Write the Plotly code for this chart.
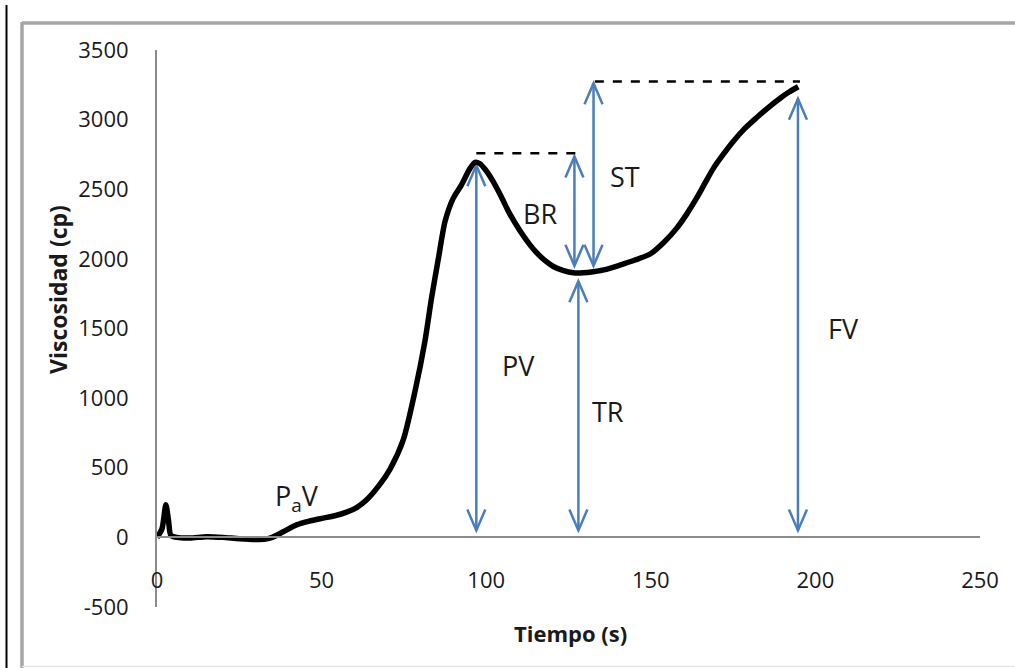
import plotly.graph_objects as go

# ---- data ----
time_s = [0, 1.5, 2.7, 3.5, 4.2, 6, 10, 15, 20, 25, 30, 33, 35, 38.3, 42.4, 46, 49.5, 54, 57.6,
          60.5, 63.7, 67.7, 70.8, 74.8, 78.4, 81.4, 83.4, 85.5, 87.5, 90.0, 92.5, 95.1, 96.6, 98,
          99.6, 102, 104.5, 107, 110.3, 113, 115.3, 118, 120.4, 123.5, 126.5, 129.5, 132.5, 136.5,
          140.6, 145, 149.8, 154, 157.9, 161, 163.9, 166.5, 169.0, 172, 175.1, 178.5, 182.2, 185.5,
          189.2, 192, 194.8]
viscosity_cp = [0, 60, 235, 120, 15, 0, -5, 5, 0, -10, -15, -12, 0, 40, 90, 115, 134, 155, 181,
                212, 270, 380, 490, 700, 1052, 1410, 1720, 2006, 2269, 2436, 2532, 2650, 2694, 2685,
                2645, 2560, 2450, 2330, 2200, 2110, 2045, 1985, 1945, 1915, 1900, 1900, 1908, 1925,
                1955, 1990, 2035, 2120, 2221, 2325, 2436, 2546, 2650, 2750, 2845, 2935, 3015, 3083,
                3152, 3198, 3236]

x_ticks = [0, 50, 100, 150, 200, 250]
x_tick_labels = ["0", "50", "100", "150", "200", "250"]
y_ticks = [-500, 0, 500, 1000, 1500, 2000, 2500, 3000, 3500]
y_tick_labels = ["-500", "0", "500", "1000", "1500", "2000", "2500", "3000", "3500"]

# measurement arrows (double headed)
arrow_x = [97.0, 126.8, 132.6, 128.0, 194.7]
arrow_bottom = [50, 1950, 1950, 50, 50]
arrow_top = [2672, 2735, 3262, 1840, 3150]

# dashed reference levels
dash_y = [2758, 3274]
dash_x0 = [97.0, 133.0]
dash_x1 = [128.0, 195.3]

# text labels
label_text = ["P<sub>a</sub>V", "BR", "ST", "PV", "TR", "FV"]
label_x = [42.5, 116.3, 142.2, 109.7, 137.0, 208.4]
label_y = [286, 2326, 2591, 1231, 902, 1503]

BLUE = "rgb(74,126,187)"
FONT = "Open Sans"

fig = go.Figure()
fig.add_trace(go.Scatter(x=time_s, y=viscosity_cp, mode="lines",
                         line=dict(color="black", width=5.5, shape="spline", smoothing=0.7),
                         hoverinfo="skip", showlegend=False))

shapes = []
for x, yb, yt in zip(arrow_x, arrow_bottom, arrow_top):
    shapes.append(dict(type="line", xref="x", yref="y", x0=x, x1=x, y0=yb, y1=yt,
                       line=dict(color=BLUE, width=2.5), layer="below"))
    shapes.append(dict(type="path", xref="x", yref="y", xsizemode="pixel", ysizemode="pixel",
                       xanchor=x, yanchor=yt, path="M-9,-21L0,0L9,-21",
                       line=dict(color=BLUE, width=2.5), layer="below"))
    shapes.append(dict(type="path", xref="x", yref="y", xsizemode="pixel", ysizemode="pixel",
                       xanchor=x, yanchor=yb, path="M-9,21L0,0L9,21",
                       line=dict(color=BLUE, width=2.5), layer="below"))

for y, x0, x1 in zip(dash_y, dash_x0, dash_x1):
    shapes.append(dict(type="line", xref="x", yref="y", x0=x0, x1=x1, y0=y, y1=y,
                       line=dict(color="black", width=2.5, dash="dash")))

# frame decorations (paper coords; plot area = 157..980 x 50..607 px)
def px(xp):
    return (xp - 157) / 823.0

def py(yp):
    return (607 - yp) / 557.0

shapes.append(dict(type="line", xref="paper", yref="paper", x0=px(6.5), x1=px(6.5),
                   y0=py(5), y1=py(668), line=dict(color="black", width=2)))
shapes.append(dict(type="line", xref="paper", yref="paper", x0=px(22), x1=px(22),
                   y0=py(22), y1=py(668), line=dict(color="#a6a6a6", width=3.5)))
shapes.append(dict(type="line", xref="paper", yref="paper", x0=px(22), x1=px(1030),
                   y0=py(23), y1=py(23), line=dict(color="#a6a6a6", width=3.5)))
shapes.append(dict(type="line", xref="paper", yref="paper", x0=px(22), x1=px(1030),
                   y0=py(666.5), y1=py(666.5), line=dict(color="#e6e6e6", width=1.5)))

annotations = []
for t, x, y in zip(label_text, label_x, label_y):
    annotations.append(dict(x=x, y=y, xref="x", yref="y", text=t, showarrow=False,
                            xanchor="center", yanchor="middle",
                            font=dict(family=FONT, size=27, color="#1a1a1a")))
annotations.append(dict(x=px(58), y=py(290), xref="paper", yref="paper",
                        xanchor="center", yanchor="middle",
                        text="<b>Viscosidad (cp)</b>", textangle=-90, showarrow=False,
                        font=dict(family=FONT, size=23, color="#1a1a1a")))
annotations.append(dict(x=px(570), y=py(633), xref="paper", yref="paper",
                        xanchor="center", yanchor="middle",
                        text="<b>Tiempo (s)</b>", showarrow=False,
                        font=dict(family=FONT, size=22, color="#1a1a1a")))

fig.update_layout(
    width=1015, height=668,
    margin=dict(l=157, r=35, t=50, b=61),
    paper_bgcolor="white", plot_bgcolor="white",
    showlegend=False,
    shapes=shapes, annotations=annotations,
    xaxis=dict(range=[0, 250], tickvals=x_ticks, ticktext=x_tick_labels,
               showgrid=False, zeroline=False,
               showline=True, linecolor="#8c8c8c", linewidth=2,
               anchor="free", position=0.125,
               ticks="outside", ticklen=23, tickcolor="rgba(0,0,0,0)",
               tickfont=dict(family=FONT, size=22, color="#1a1a1a")),
    yaxis=dict(range=[-500, 3500], tickvals=y_ticks, ticktext=y_tick_labels,
               showgrid=False, zeroline=False,
               showline=True, linecolor="#8c8c8c", linewidth=2,
               ticks="outside", ticklen=22, tickcolor="rgba(0,0,0,0)",
               tickfont=dict(family=FONT, size=22, color="#1a1a1a")),
)

fig.write_html("out.html", config={"displayModeBar": False},
               post_script="document.body.style.margin='0';document.body.style.overflow='hidden';")
